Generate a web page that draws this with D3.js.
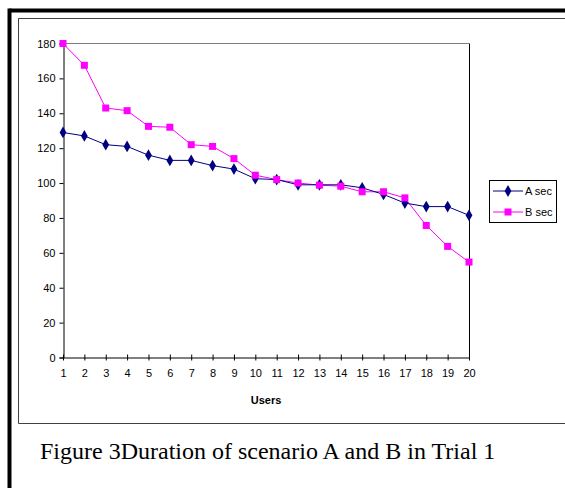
<!DOCTYPE html>
<html>
<head>
<meta charset="utf-8">
<script src="https://cdn.jsdelivr.net/npm/d3@7"></script>
<style>
  html, body { margin: 0; padding: 0; background: #fff; }
  svg { display: block; }
</style>
</head>
<body>
<svg id="chart" width="565" height="488"></svg>
<script>
const users = [1,2,3,4,5,6,7,8,9,10,11,12,13,14,15,16,17,18,19,20];
const aSec = [129,127,122,121,116,113,113,110,108,102.5,102,99,99,99,97.3,93.5,88.5,86.5,86.5,81.5];
const bSec = [180,167.5,143,141.5,132.5,132,122,121,114,104.5,102,100,98.8,98.2,95,95,91.5,75.7,63.7,54.7];
const yTicks = [0,20,40,60,80,100,120,140,160,180];
const seriesNames = ["A sec", "B sec"];
const seriesColors = ["#000080", "#FF00FF"];
const captionText = "Figure 3Duration of scenario A and B in Trial 1";
const xTitle = "Users";

(function () {
const svg = d3.select("#chart");

// outer thick frame (top and left, extending off page)
svg.append("line").attr("x1", 9.5).attr("y1", 10.5).attr("x2", 565).attr("y2", 10.5)
  .attr("stroke", "#000").attr("stroke-width", 4);
svg.append("line").attr("x1", 9.5).attr("y1", 8.5).attr("x2", 9.5).attr("y2", 488)
  .attr("stroke", "#000").attr("stroke-width", 4);
// inner chart frame
svg.append("path").attr("d", "M565,18.5 H18.5 V423.5 H565")
  .attr("fill", "none").attr("stroke", "#404040").attr("stroke-width", 1);

const pLeft = 63, pRight = 469, pTop = 43.5, pBottom = 357.5;
const x = d3.scalePoint().domain(users).range([pLeft, pRight]);
const y = d3.scaleLinear().domain([0, 180]).range([pBottom, pTop]);

// plot area border top/right
svg.append("line").attr("x1", pLeft).attr("x2", pRight).attr("y1", pTop).attr("y2", pTop)
  .attr("stroke", "#808080").attr("stroke-width", 1);
svg.append("line").attr("x1", pRight + 0.5).attr("x2", pRight + 0.5).attr("y1", pTop).attr("y2", pBottom)
  .attr("stroke", "#000").attr("stroke-width", 1);

// Y axis
const yAxis = d3.axisLeft(y).tickValues(yTicks).tickSize(4).tickPadding(4);
const gy = svg.append("g").attr("transform", `translate(${pLeft + 0.5},0)`).call(yAxis);
gy.select(".domain").attr("stroke", "#000");
gy.selectAll(".tick line").attr("stroke", "#000");
gy.selectAll("text").attr("font-family", "'Liberation Sans', Arial, sans-serif")
  .attr("font-size", "11px").attr("fill", "#000");

// X axis (ticks cross axis)
const xAxis = d3.axisBottom(x).tickSizeInner(3).tickSizeOuter(0).tickPadding(9);
const gx = svg.append("g").attr("transform", `translate(0,${pBottom})`).call(xAxis);
gx.select(".domain").attr("stroke", "#000");
gx.selectAll(".tick line").attr("stroke", "#000").attr("y1", -3).attr("y2", 3);
gx.selectAll("text").attr("font-family", "'Liberation Sans', Arial, sans-serif")
  .attr("font-size", "11px").attr("fill", "#000");

svg.append("text").attr("x", 266).attr("y", 404).attr("text-anchor", "middle")
  .attr("font-family", "'Liberation Sans', Arial, sans-serif").attr("font-size", "11px")
  .attr("font-weight", "bold").text(xTitle);

const line = d3.line().x((d, i) => x(users[i])).y(d => y(d));
const diamond = d3.symbol().type(d3.symbolDiamond).size(40);

// B series
svg.append("path").datum(bSec).attr("d", line).attr("fill", "none")
  .attr("stroke", seriesColors[1]).attr("stroke-width", 1);
// A series
svg.append("path").datum(aSec).attr("d", line).attr("fill", "none")
  .attr("stroke", seriesColors[0]).attr("stroke-width", 1);

svg.append("g").selectAll("path").data(aSec).join("path")
  .attr("d", diamond).attr("transform", (d, i) => `translate(${x(users[i])},${y(d)})`)
  .attr("fill", seriesColors[0]);
svg.append("g").selectAll("rect").data(bSec).join("rect")
  .attr("x", (d, i) => x(users[i]) - 3.5).attr("y", d => y(d) - 3.5)
  .attr("width", 7).attr("height", 7).attr("fill", seriesColors[1]);

// Legend
const lg = svg.append("g");
lg.append("rect").attr("x", 489.5).attr("y", 180.5).attr("width", 67).attr("height", 42)
  .attr("fill", "#fff").attr("stroke", "#000");
seriesNames.forEach((name, i) => {
  const ly = 191 + i * 21;
  lg.append("line").attr("x1", 493).attr("x2", 523).attr("y1", ly).attr("y2", ly)
    .attr("stroke", seriesColors[i]).attr("stroke-width", 1);
  if (i === 0) {
    lg.append("path").attr("d", diamond).attr("transform", `translate(508,${ly})`).attr("fill", seriesColors[0]);
  } else {
    lg.append("rect").attr("x", 504.5).attr("y", ly - 3.5).attr("width", 7).attr("height", 7).attr("fill", seriesColors[1]);
  }
  lg.append("text").attr("x", 525).attr("y", ly + 4).attr("font-family", "'Liberation Sans', Arial, sans-serif")
    .attr("font-size", "11px").text(name);
});

// Caption
svg.append("text").attr("x", 40).attr("y", 459)
  .attr("font-family", "'Liberation Serif', 'Times New Roman', serif").attr("font-size", "24px")
  .attr("fill", "#000").text(captionText);
})();
</script>
</body>
</html>
